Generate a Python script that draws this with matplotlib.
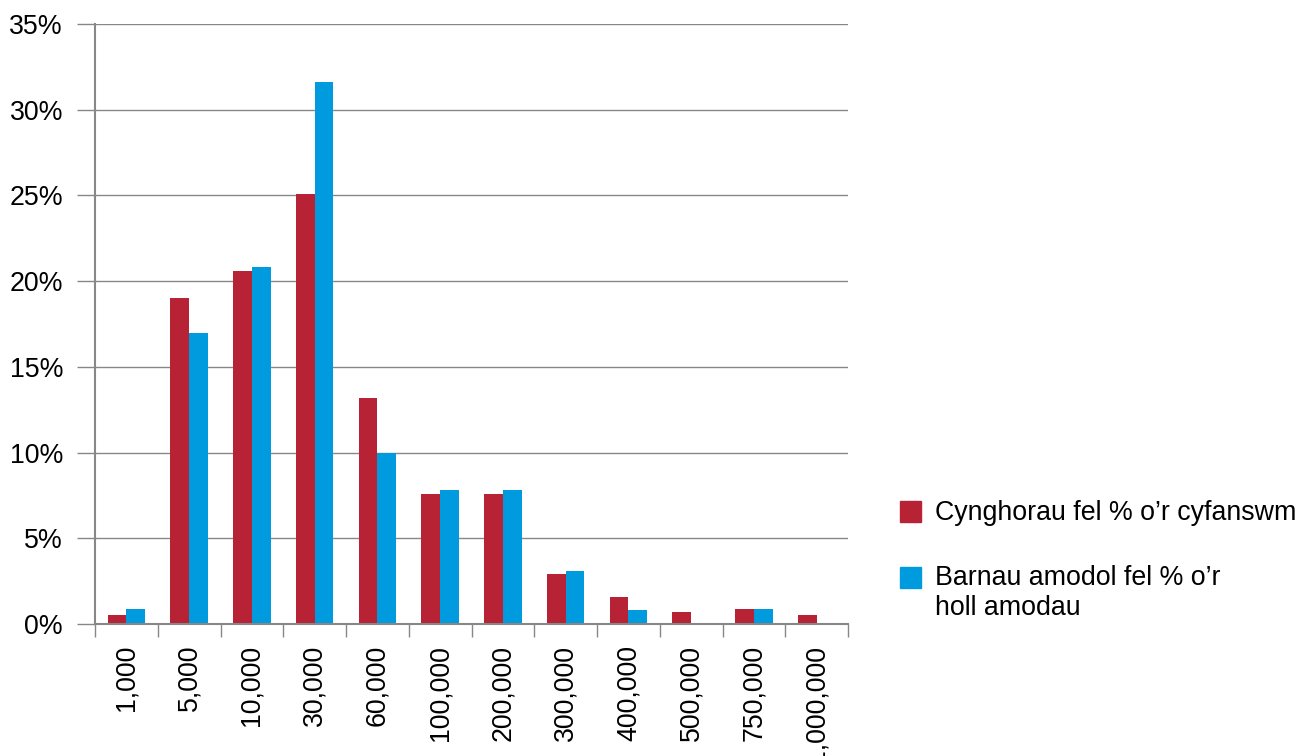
import matplotlib
matplotlib.use("Agg")
import matplotlib.pyplot as plt
from matplotlib.patches import Rectangle
import numpy as np

categories = ["1,000", "5,000", "10,000", "30,000", "60,000", "100,000", "200,000",
              "300,000", "400,000", "500,000", "750,000", "1,000,000"]
cynghorau = [0.5, 19.0, 20.6, 25.1, 13.2, 7.6, 7.6, 2.9, 1.6, 0.7, 0.9, 0.5]
barnau = [0.9, 17.0, 20.8, 31.6, 10.0, 7.8, 7.8, 3.1, 0.8, 0.0, 0.9, 0.0]
series_names = ["Cynghorau fel % o\u2019r cyfanswm", "Barnau amodol fel % o\u2019r\nholl amodau"]
yticks = [0, 5, 10, 15, 20, 25, 30, 35]

RED = "#B82235"
BLUE = "#009BDE"
GRID = "#878787"

plt.rcParams['font.family'] = ['Liberation Sans', 'DejaVu Sans']
FS = 19.3

fig = plt.figure(figsize=(12.98, 7.56), dpi=100)
W, H = 1298, 756
ax = fig.add_axes([95 / W, 1 - 624 / H, (848 - 95) / W, 600 / H])

x = np.arange(len(categories))
bw = 0.3
ax.bar(x - bw / 2, cynghorau, width=bw, color=RED, zorder=3)
ax.bar(x + bw / 2, barnau, width=bw, color=BLUE, zorder=3)

ax.set_xlim(-0.5, len(categories) - 0.5)
ax.set_ylim(0, 35)
ax.set_yticks(yticks)
ax.set_yticklabels([f"{t}%" for t in yticks], fontsize=FS)
ax.yaxis.grid(True, color=GRID, linewidth=1, zorder=0)
ax.set_axisbelow(True)

ax.set_xticks(np.arange(-0.5, len(categories) + 0.5, 1.0))
ax.set_xticklabels([])
ax.set_xticks(x, minor=True)
ax.set_xticklabels(categories, minor=True, rotation=90, fontsize=FS, va='top', ha='center')
ax.tick_params(axis='x', which='major', length=9, width=1, color=GRID, direction='out')
ax.tick_params(axis='x', which='minor', length=0, pad=15)
ax.tick_params(axis='y', length=13, width=1, color=GRID, direction='out', pad=10)

for s in ['top', 'right']:
    ax.spines[s].set_visible(False)
for s in ['left', 'bottom']:
    ax.spines[s].set_color(GRID)
    ax.spines[s].set_linewidth(1.5)
    ax.spines[s].set_zorder(4)

# legend (manual)
fig.patches.append(Rectangle((900 / W, 1 - 522 / H), 21 / W, 21 / H, color=RED,
                             transform=fig.transFigure, figure=fig))
fig.text(935 / W, 1 - 513 / H, series_names[0], fontsize=FS, va='center', ha='left')
fig.patches.append(Rectangle((900 / W, 1 - 588 / H), 21 / W, 21 / H, color=BLUE,
                             transform=fig.transFigure, figure=fig))
fig.text(935 / W, 1 - 565 / H, series_names[1], fontsize=FS, va='top', ha='left',
         linespacing=1.22)

fig.savefig("out.png", dpi=100)
